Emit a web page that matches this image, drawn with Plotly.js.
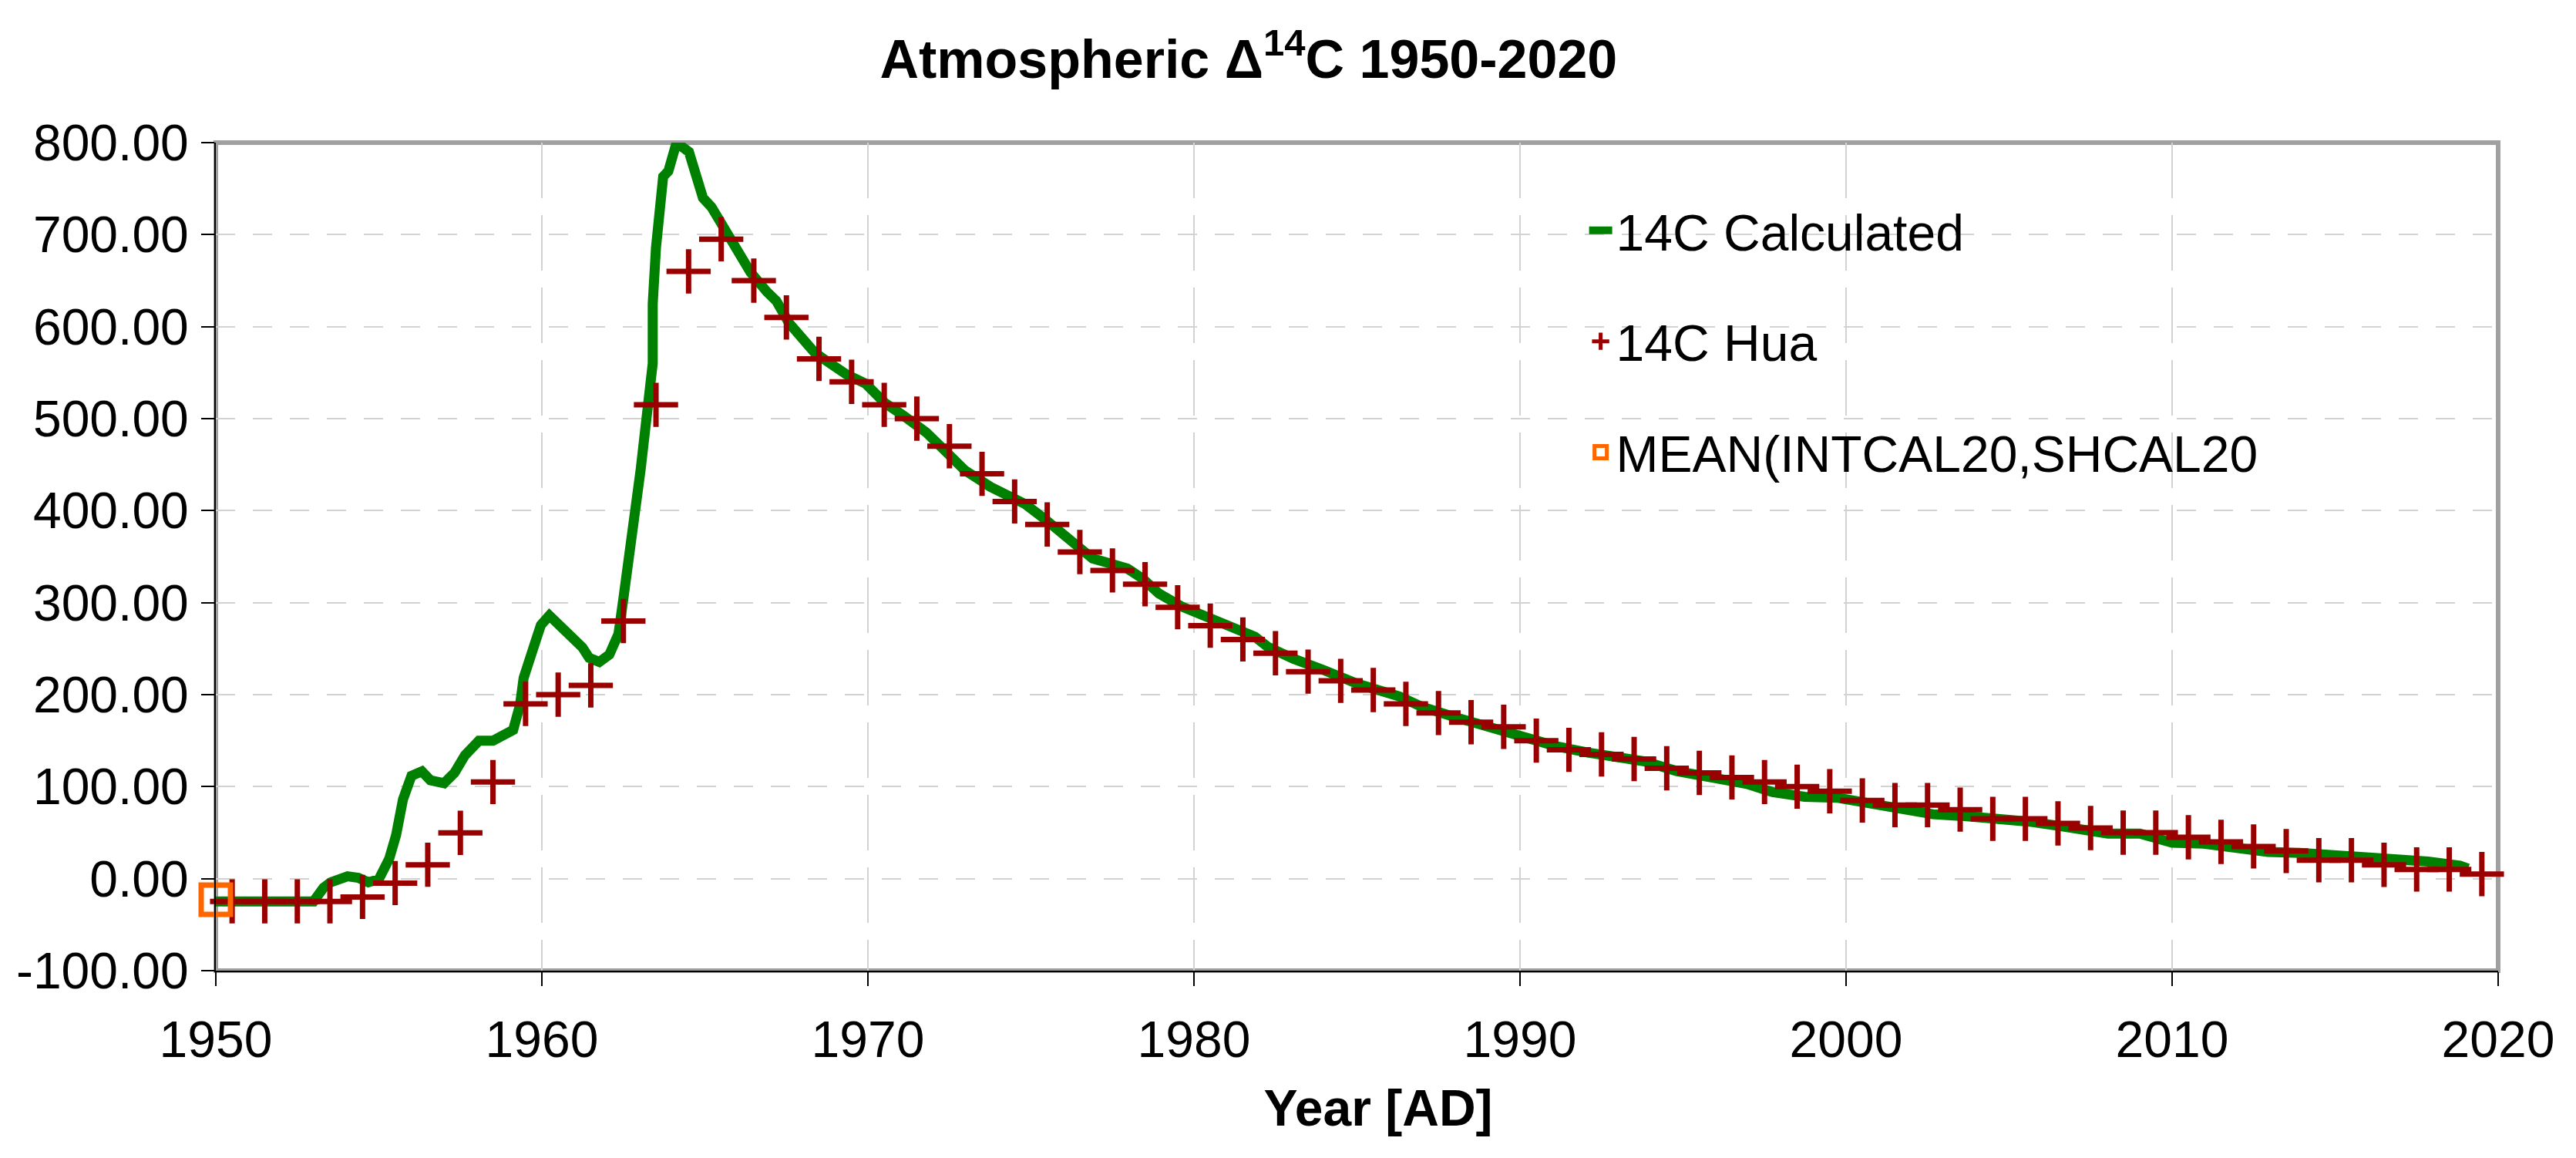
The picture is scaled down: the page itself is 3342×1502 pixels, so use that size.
<!DOCTYPE html>
<html>
<head>
<meta charset="utf-8">
<script src="https://cdn.plot.ly/plotly-3.0.1.min.js"></script>
<style>html,body{margin:0;padding:0;background:#fff;}</style>
</head>
<body>
<div id="chart" style="width:3342px;height:1502px;"></div>
<script>
// ---- data ----
const calcYears = [1950.0, 1953.0, 1953.3, 1953.52, 1954.04, 1954.37, 1954.68, 1955.0, 1955.32, 1955.53,
  1955.74, 1956.0, 1956.32, 1956.58, 1957.0, 1957.32, 1957.64, 1958.07, 1958.5, 1959.12,
  1959.33, 1959.44, 1959.76, 1959.97, 1960.23, 1960.7, 1961.24, 1961.45, 1961.76, 1962.07,
  1962.35, 1962.5, 1962.76, 1963.03, 1963.4, 1963.4, 1963.5, 1963.72, 1963.88, 1964.04,
  1964.13, 1964.51, 1964.78, 1964.94, 1965.2, 1965.5, 1965.72, 1966.4, 1966.9, 1967.19,
  1967.58, 1968.07, 1968.36, 1968.76, 1969.34, 1969.93, 1970.52, 1971.1, 1971.79, 1972.28,
  1972.97, 1973.75, 1974.24, 1974.83, 1975.42, 1976.1, 1976.89, 1977.38, 1977.96, 1978.43,
  1978.92, 1979.61, 1980.2, 1981.08, 1981.87, 1982.26, 1983.05, 1984.03, 1985.0, 1986.3,
  1986.97, 1987.96, 1988.94, 1989.92, 1991.1, 1992.08, 1993.05, 1993.82, 1994.8, 1995.79,
  1996.96, 1997.75, 1998.73, 1999.72, 2000.7, 2001.68, 2002.66, 2003.64, 2004.63, 2005.61,
  2006.59, 2007.04, 2008.03, 2009.01, 2010.0, 2010.97, 2011.95, 2012.94, 2013.92, 2014.9,
  2015.88, 2016.87, 2017.85, 2018.83, 2019.08];
const calcValues = [-24.7, -24.7, -10, -4, 2.6, 1, -4, -0.6, 21.8, 47.5,
  86, 111.8, 116.6, 107, 103.8, 115, 134, 150, 150, 161.6,
  189, 218, 253, 275.6, 286, 269, 251.5, 240, 235.5, 243.5,
  266, 304.5, 369, 444.7, 560, 625, 686, 763, 769, 795,
  800, 790, 760, 740, 730, 712, 701, 659, 638, 628,
  604, 586, 572, 562, 548, 538, 517, 503, 485, 468,
  444, 426, 418, 407, 391, 371, 348, 343, 337, 326,
  310, 296, 287, 274, 263, 252, 239, 226, 212, 198,
  187, 176, 166, 155, 144, 137, 131, 127.5, 117, 111,
  103, 94, 89, 88, 82, 75, 70, 68, 66, 62,
  57, 55, 49, 49, 39, 38, 33, 29, 28, 26,
  23, 20, 18.5, 14, 11];

const huaYears = [1950.5, 1951.5, 1952.5, 1953.5, 1954.5, 1955.5, 1956.5, 1957.5, 1958.5, 1959.5,
  1960.5, 1961.5, 1962.5, 1963.5, 1964.5, 1965.5, 1966.5, 1967.5, 1968.5, 1969.5,
  1970.5, 1971.5, 1972.5, 1973.5, 1974.5, 1975.5, 1976.5, 1977.5, 1978.5, 1979.5,
  1980.5, 1981.5, 1982.5, 1983.5, 1984.5, 1985.5, 1986.5, 1987.5, 1988.5, 1989.5,
  1990.5, 1991.5, 1992.5, 1993.5, 1994.5, 1995.5, 1996.5, 1997.5, 1998.5, 1999.5,
  2000.5, 2001.5, 2002.5, 2003.5, 2004.5, 2005.5, 2006.5, 2007.5, 2008.5, 2009.5,
  2010.5, 2011.5, 2012.5, 2013.5, 2014.5, 2015.5, 2016.5, 2017.5, 2018.5, 2019.5];
const huaValues = [-24.7, -24.7, -24.7, -24.7, -19.9, -4.8, 15.1, 49.8, 105, 190,
  200, 210, 280, 515, 660, 695, 650, 610, 565, 540,
  515, 500, 470, 440, 410, 385, 355, 335, 320, 295,
  275, 260, 245, 225, 215, 205, 190, 180, 170, 165,
  150, 140, 135, 130, 120, 115, 110, 105, 100, 95,
  85, 80, 80, 75, 65, 65, 60, 55, 50, 50,
  45, 40, 35, 30, 20, 20, 15, 10, 10, 5];

const meanYears = [1950];
const meanValues = [-23];

const seriesNames = ['14C Calculated', '14C Hua', 'MEAN(INTCAL20,SHCAL20'];
const xTickVals = [1950, 1960, 1970, 1980, 1990, 2000, 2010, 2020];
const xTickText = ['1950', '1960', '1970', '1980', '1990', '2000', '2010', '2020'];
const yTickVals = [-100, 0, 100, 200, 300, 400, 500, 600, 700, 800];
const yTickText = ['-100.00', '0.00', '100.00', '200.00', '300.00', '400.00', '500.00', '600.00', '700.00', '800.00'];

const FONT = '"Liberation Sans", Arial, sans-serif';

const traces = [
  {
    type: 'scatter', mode: 'lines', name: seriesNames[0],
    x: calcYears, y: calcValues,
    line: {color: '#008000', width: 13},
    legendgroup: 'a'
  },
  {
    type: 'scatter', mode: 'markers', name: seriesNames[1],
    x: huaYears, y: huaValues,
    marker: {symbol: 'cross-thin', size: 41, color: '#990000', line: {color: '#990000', width: 7}},
    cliponaxis: false,
    legendgroup: 'b'
  },
  {
    type: 'scatter', mode: 'markers', name: seriesNames[2],
    x: meanYears, y: meanValues,
    marker: {symbol: 'square-open', size: 38, color: '#FF6600', line: {color: '#FF6600', width: 7}},
    cliponaxis: false,
    legendgroup: 'c'
  }
];

const layout = {
  width: 3342, height: 1502,
  paper_bgcolor: '#ffffff', plot_bgcolor: '#ffffff',
  margin: {l: 280, r: 101, t: 185, b: 243, autoexpand: false},
  font: {family: FONT, size: 66, color: '#000000'},
  title: {
    text: '<b>Atmospheric Δ<sup>14</sup>C 1950-2020</b>',
    font: {family: FONT, size: 70, color: '#000000'},
    x: 0.4847, xanchor: 'center', xref: 'container',
    y: 0.949, yanchor: 'middle', yref: 'container'
  },
  xaxis: {
    range: [1950, 2020],
    tickmode: 'array', tickvals: xTickVals, ticktext: xTickText,
    ticks: 'outside', ticklen: 18, tickwidth: 2, tickcolor: '#000000',
    ticklabelstandoff: 13,
    showline: true, linecolor: '#000000', linewidth: 2,
    showgrid: true, gridcolor: '#d2d2d2', gridwidth: 2, griddash: '72px,22px',
    zeroline: false,
    tickfont: {family: FONT, size: 66, color: '#000000'},
    title: {text: '<b>&nbsp;&nbsp;&nbsp;Year [AD]</b>', font: {family: FONT, size: 66, color: '#000000'}, standoff: 30},
    automargin: false
  },
  yaxis: {
    range: [-100, 800],
    tickmode: 'array', tickvals: yTickVals, ticktext: yTickText,
    ticks: 'outside', ticklen: 17, tickwidth: 2, tickcolor: '#000000',
    ticklabelstandoff: 3,
    showline: true, linecolor: '#000000', linewidth: 2,
    showgrid: true, gridcolor: '#d2d2d2', gridwidth: 2, griddash: '25px,23px',
    zeroline: false,
    tickfont: {family: FONT, size: 66, color: '#000000'},
    automargin: false
  },
  legend: {
    x: 0.600, xanchor: 'left', y: 0.94, yanchor: 'top',
    bgcolor: 'rgba(255,255,255,0)', borderwidth: 0,
    font: {family: FONT, size: 66, color: '#000000'},
    traceorder: 'grouped', tracegroupgap: 55
  },
  showlegend: true,
  shapes: [
    {type: 'rect', xref: 'paper', yref: 'paper', x0: 0, x1: 1, y0: 0, y1: 1,
     line: {color: '#a0a0a0', width: 6}, fillcolor: 'rgba(0,0,0,0)', layer: 'below'}
  ]
};

Plotly.newPlot('chart', traces, layout, {staticPlot: true, displayModeBar: false});
</script>
</body>
</html>
